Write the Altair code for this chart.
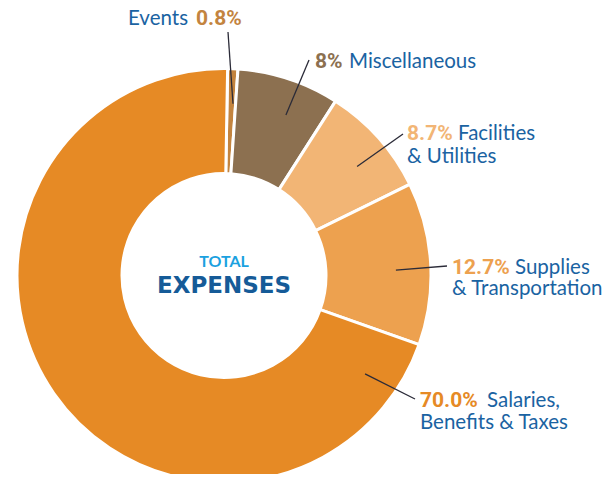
import math
import altair as alt
import pandas as pd

# ---- data ----
categories = ["Events", "Miscellaneous", "Facilities & Utilities",
              "Supplies & Transportation", "Salaries, Benefits & Taxes"]
values = [0.8, 8.0, 8.7, 12.7, 70.0]
pct_labels = ["0.8%", "8%", "8.7%", "12.7%", "70.0%"]
name_line1 = ["Events", "Miscellaneous", "Facilities", "Supplies", "Salaries,"]
name_line2 = ["", "", "& Utilities", "& Transportation", "Benefits & Taxes"]
slice_colors = ["#C3843F", "#8C7050", "#F2B575", "#EDA14F", "#E68A25"]

# ---- layout (plot coordinates) ----
W, H = 594, 466
CX, CY = 216, 267.5
R_OUT, R_IN = 207, 102
OFFSET = math.radians(1.0)
BLUE = "#1A63A2"

# leader line: start angle (deg, clockwise from top) at radius, end point
leader_angle = [3.0, 21.1, 50.7, 88.2, 124.9]
leader_r = 172
leader_end = [(220, 24), (301, 52), (395, 126), (439, 258), (407, 391)]
# label anchors: (pct_x, name_x, baseline1, baseline2)
label_pos = [(188, 120, 17, None), (307, 341, 60, None), (399, 450, 132, 155),
             (444, 507, 266, 287), (412, 479, 399, 421)]

df = pd.DataFrame({"cat": categories, "value": values,
                   "order": list(range(len(categories)))})

lines = []
for a, (ex, ey) in zip(leader_angle, leader_end):
    t = math.radians(a)
    lines.append({"x": CX + leader_r * math.sin(t), "y": CY - leader_r * math.cos(t),
                  "x2": ex, "y2": ey})
df_lines = pd.DataFrame(lines)

pct_rows, name_rows = [], []
for i, (px, nx, b1, b2) in enumerate(label_pos):
    pct_rows.append({"x": px, "y": b1, "t": pct_labels[i], "c": slice_colors[i]})
    name_rows.append({"x": nx, "y": b1, "t": name_line1[i]})
    if name_line2[i]:
        name_rows.append({"x": px, "y": b2, "t": name_line2[i]})
df_pct = pd.DataFrame(pct_rows)
df_name = pd.DataFrame(name_rows)

xs = alt.Scale(domain=[0, W])
ys = alt.Scale(domain=[0, H], reverse=True)

arcs = alt.Chart(df).mark_arc(outerRadius=R_OUT, innerRadius=R_IN,
                              stroke="white", strokeWidth=3).encode(
    theta=alt.Theta("value:Q", stack=True,
                    scale=alt.Scale(range=[OFFSET, OFFSET + 2 * math.pi])),
    color=alt.Color("cat:N", scale=alt.Scale(domain=categories, range=slice_colors),
                    legend=None),
    order=alt.Order("order:Q"),
    x=alt.value(CX), y=alt.value(CY),
)

leaders = alt.Chart(df_lines).mark_rule(color="#2B2B38", strokeWidth=1.3).encode(
    x=alt.X("x:Q", scale=xs, axis=None), y=alt.Y("y:Q", scale=ys, axis=None),
    x2="x2:Q", y2="y2:Q",
)

pct_text = alt.Chart(df_pct).mark_text(
    align="left", baseline="alphabetic", font="Roboto", fontWeight="bold",
    fontSize=21).encode(
    x=alt.X("x:Q", scale=xs, axis=None), y=alt.Y("y:Q", scale=ys, axis=None),
    text="t:N", color=alt.Color("c:N", scale=None),
)

name_text = alt.Chart(df_name).mark_text(
    align="left", baseline="alphabetic", font="Lato", fontSize=20.5,
    color=BLUE).encode(
    x=alt.X("x:Q", scale=xs, axis=None), y=alt.Y("y:Q", scale=ys, axis=None),
    text="t:N",
)

df_center = pd.DataFrame({"x": [CX, CX], "y": [259, 285],
                          "t": ["TOTAL", "EXPENSES"]})
total_text = alt.Chart(df_center.iloc[[0]]).mark_text(
    align="center", baseline="alphabetic", font="Lato", fontSize=16,
    fontWeight="bold", color="#1BA1E0").encode(
    x=alt.X("x:Q", scale=xs, axis=None), y=alt.Y("y:Q", scale=ys, axis=None),
    text="t:N")
exp_text = alt.Chart(df_center.iloc[[1]]).mark_text(
    align="center", baseline="alphabetic", font="DejaVu Sans", fontSize=23,
    fontWeight="bold", color="#155B98").encode(
    x=alt.X("x:Q", scale=xs, axis=None), y=alt.Y("y:Q", scale=ys, axis=None),
    text="t:N")

chart = alt.layer(arcs, leaders, pct_text, name_text, total_text, exp_text).properties(
    width=W, height=H, padding=0,
    autosize=alt.AutoSizeParams(type="none"),
).configure_view(stroke=None)

chart.save("out.html", embed_options={"renderer": "svg", "actions": False})
